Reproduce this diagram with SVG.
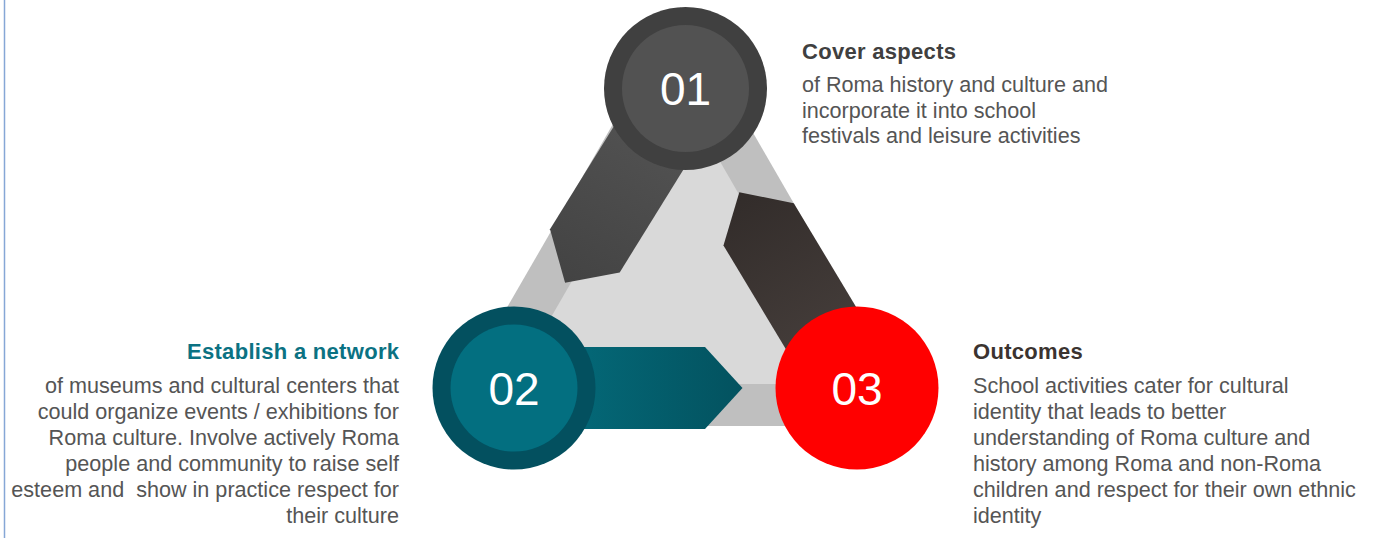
<svg xmlns="http://www.w3.org/2000/svg" width="1374" height="538" viewBox="0 0 1374 538">
  <defs>
    <style>
      .num { font-family: "Liberation Sans", Arial, sans-serif; font-size: 46px; fill: #ffffff; text-anchor: middle; }
      .ttl { font-family: "Liberation Sans", Arial, sans-serif; font-size: 22px; font-weight: bold; letter-spacing: 0.3px; }
      .body { font-family: "Liberation Sans", Arial, sans-serif; font-size: 21.6px; fill: #555555; }
      .end { text-anchor: end; }
    </style>
    <linearGradient id="gL" x1="0" y1="0" x2="1" y2="0">
      <stop offset="0" stop-color="#565656"/>
      <stop offset="1" stop-color="#434343"/>
    </linearGradient>
    <linearGradient id="gR" x1="0" y1="0" x2="1" y2="0">
      <stop offset="0" stop-color="#4a423f"/>
      <stop offset="1" stop-color="#322c2a"/>
    </linearGradient>
    <linearGradient id="gB" x1="0" y1="0" x2="1" y2="0">
      <stop offset="0" stop-color="#047080"/>
      <stop offset="1" stop-color="#03525f"/>
    </linearGradient>
    <polygon id="arrow" points="0,-41 191,-41 228.5,0 191,41 0,41"/>
  </defs>

  <rect x="0" y="0" width="1374" height="538" fill="#ffffff"/>
  <line x1="4.5" y1="0" x2="4.5" y2="538" stroke="#86a7d6" stroke-width="1.5"/>

  <g id="background">
    <polygon points="680.5,7 922.4,426 447,426 442.1,420" fill="#bfbfbf"/>
    <polygon points="680.5,93 848.5,384 512.5,384" fill="#d9d9d9"/>
  </g>

  <g id="connectors">
    <use href="#arrow" fill="url(#gL)" transform="translate(685.5,88.5) rotate(121.8)"/>
    <use href="#arrow" fill="url(#gR)" transform="translate(857,388) rotate(-121)"/>
    <use href="#arrow" fill="url(#gB)" transform="translate(514,388)"/>
  </g>

  <g id="node01">
    <circle cx="685.5" cy="88.5" r="81.5" fill="#404040"/>
    <circle cx="685.5" cy="88.5" r="63.5" fill="#525252"/>
    <text class="num" x="685.5" y="105">01</text>
  </g>
  <g id="node02">
    <circle cx="514" cy="388" r="81.5" fill="#03505f"/>
    <circle cx="514" cy="388" r="63.5" fill="#036f80"/>
    <text class="num" x="514" y="404.5">02</text>
  </g>
  <g id="node03">
    <circle cx="857" cy="388" r="81.5" fill="#ff0000"/>
    <text class="num" x="857" y="404.5">03</text>
  </g>

  <g id="text01">
    <text class="ttl" x="802" y="59" fill="#404040">Cover aspects</text>
    <text class="body" x="802" y="91.7">of Roma history and culture and</text>
    <text class="body" x="802" y="117.5">incorporate it into school</text>
    <text class="body" x="802" y="143.3">festivals and leisure activities</text>
  </g>

  <g id="text02">
    <text class="ttl end" x="399.3" y="358.5" fill="#0b7283">Establish a network</text>
    <text class="body end" x="399" y="392.6">of museums and cultural centers that</text>
    <text class="body end" x="399" y="418.7">could organize events / exhibitions for</text>
    <text class="body end" x="399" y="444.8">Roma culture. Involve actively Roma</text>
    <text class="body end" x="399" y="470.9">people and community to raise self</text>
    <text class="body end" x="399" y="497" xml:space="preserve">esteem and  show in practice respect for</text>
    <text class="body end" x="399" y="523.1">their culture</text>
  </g>

  <g id="text03">
    <text class="ttl" x="973" y="358.7" fill="#3b3330">Outcomes</text>
    <text class="body" x="973" y="392.6">School activities cater for cultural</text>
    <text class="body" x="973" y="418.7">identity that leads to better</text>
    <text class="body" x="973" y="444.8">understanding of Roma culture and</text>
    <text class="body" x="973" y="470.9">history among Roma and non-Roma</text>
    <text class="body" x="973" y="497">children and respect for their own ethnic</text>
    <text class="body" x="973" y="523.1">identity</text>
  </g>
</svg>
